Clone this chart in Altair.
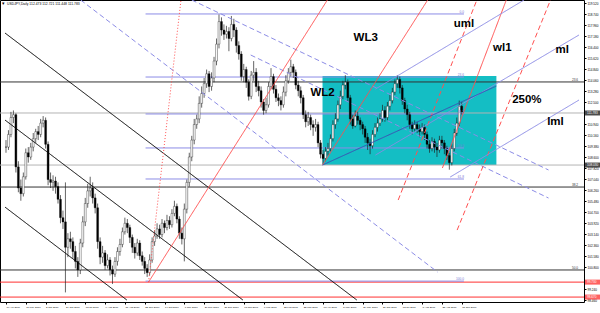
import altair as alt
import pandas as pd

# ---------------- data ----------------
closes = [
    109.3, 110.2, 111.4, 111.6, 107.9, 106.4, 106.0, 107.2, 108.9, 108.6,
    109.3, 109.9, 110.4, 110.2, 111.0, 111.2, 109.5, 107.0, 106.8, 106.9,
    106.5, 105.6, 104.3, 104.0, 102.2, 102.8, 102.6, 101.9, 101.2, 100.6,
    102.5, 104.0, 105.3, 106.2, 106.4, 105.7, 105.0, 102.6, 101.5, 101.8,
    100.9, 101.3, 100.6, 100.3, 101.2, 101.9, 102.4, 103.3, 103.9, 103.6,
    102.9, 102.2, 101.8, 102.5, 101.6, 101.2, 100.7, 100.4, 101.3, 102.6,
    103.0, 103.5, 103.1, 103.9, 103.6, 104.1, 103.8, 104.6, 105.1, 104.2,
    103.2, 102.8, 104.9, 106.8, 108.6, 109.8, 110.9, 111.3, 112.4, 113.1,
    113.8, 114.5, 113.6, 114.2, 115.4, 116.6, 118.2, 117.6, 117.3, 117.5,
    117.0, 118.0, 117.6, 116.5, 115.9, 114.3, 114.8, 113.9, 112.9, 114.4,
    114.6, 113.6, 113.3, 112.5, 111.9, 112.3, 113.6, 114.3, 113.4, 112.8,
    112.6, 112.3, 113.2, 114.0, 114.6, 115.0, 114.6, 113.7, 113.3, 112.8,
    111.6, 111.1, 111.4, 110.9, 110.7, 110.9, 109.6, 108.8, 108.5, 109.0,
    109.2, 109.9, 110.9, 111.3, 112.3, 112.9, 113.7, 113.9, 112.8, 111.3,
    110.8, 111.5, 111.2, 110.9, 110.6, 110.0, 109.6, 109.4, 110.2, 110.7,
    111.0, 111.3, 111.9, 111.4, 112.2, 112.6, 113.2, 113.8, 114.1, 113.5,
    112.6, 112.0, 111.6, 110.9, 110.6, 110.9, 110.6, 110.4, 110.7, 110.2,
    109.5, 109.2, 109.7, 109.3, 109.1, 109.8, 109.6, 109.2, 108.7, 108.2,
    109.2, 110.3, 111.0, 112.2, 111.8,
]
lows = [
    108.9, 109.1, 110.0, 111.0, 107.5, 106.1, 105.5, 105.8, 107.0, 108.2,
    108.4, 109.0, 109.6, 109.8, 110.0, 110.7, 109.2, 106.6, 106.4, 106.2,
    106.0, 105.3, 103.9, 103.5, 99.0, 101.5, 102.1, 101.4, 100.7, 100.1,
    100.3, 102.2, 103.7, 105.0, 105.8, 105.3, 104.6, 102.1, 101.0, 101.1,
    100.6, 100.7, 100.2, 99.6, 100.1, 100.9, 101.6, 102.2, 103.1, 103.2,
    102.5, 101.8, 101.4, 101.6, 101.3, 100.9, 100.3, 100.1, 100.2, 101.1,
    102.3, 102.8, 102.8, 102.9, 103.2, 103.4, 103.5, 103.6, 104.4, 103.9,
    102.8, 102.4, 101.2, 104.6, 106.5, 108.3, 109.5, 110.6, 111.0, 112.1,
    112.8, 113.5, 113.2, 113.3, 113.9, 115.1, 116.3, 117.2, 116.9, 117.0,
    116.1, 116.8, 117.1, 116.0, 115.5, 114.0, 113.9, 113.5, 112.6, 112.7,
    114.0, 113.2, 112.9, 112.1, 111.6, 111.7, 112.1, 113.4, 113.1, 112.5,
    112.2, 111.9, 112.1, 112.9, 113.8, 114.3, 114.2, 113.4, 112.9, 112.4,
    111.3, 110.7, 110.8, 110.5, 110.1, 110.4, 109.3, 108.5, 108.1, 108.3,
    108.7, 109.0, 109.7, 110.6, 111.1, 112.0, 112.7, 113.4, 112.5, 110.9,
    110.6, 110.7, 110.9, 110.5, 110.2, 109.6, 109.1, 108.8, 109.2, 110.0,
    110.4, 110.8, 111.1, 111.1, 111.2, 111.9, 112.4, 113.0, 113.5, 113.1,
    112.3, 111.7, 111.2, 110.6, 110.2, 110.4, 110.3, 110.0, 110.2, 109.8,
    109.2, 108.9, 109.0, 108.9, 108.6, 108.9, 109.2, 108.8, 108.4, 107.7,
    108.0, 109.0, 110.1, 110.8, 111.6,
]
highs = [
    109.8, 110.5, 111.8, 111.9, 111.7, 108.3, 107.0, 107.5, 109.2, 109.3,
    109.6, 110.3, 110.6, 110.8, 111.3, 111.5, 111.4, 109.7, 107.5, 107.3,
    107.2, 106.8, 105.9, 104.8, 106.8, 103.2, 103.3, 102.9, 102.3, 101.5,
    102.8, 104.4, 105.7, 106.7, 107.2, 106.8, 106.0, 105.3, 102.9, 102.3,
    102.0, 101.7, 101.5, 100.9, 101.5, 102.2, 102.8, 103.6, 104.3, 104.2,
    103.8, 103.1, 102.5, 102.8, 102.7, 101.9, 101.5, 101.0, 101.7, 102.9,
    103.4, 103.9, 103.8, 104.2, 104.1, 104.5, 104.4, 104.9, 105.5, 105.3,
    104.4, 103.6, 105.3, 107.0, 108.9, 110.1, 111.3, 111.6, 112.9, 113.6,
    114.2, 114.8, 114.7, 114.6, 115.7, 117.0, 118.7, 118.5, 118.0, 117.9,
    117.8, 118.6, 118.4, 117.8, 116.8, 116.1, 115.2, 115.0, 114.1, 114.7,
    115.4, 114.9, 114.0, 113.6, 112.7, 112.8, 113.9, 114.9, 114.5, 113.7,
    113.1, 112.9, 113.6, 114.4, 114.9, 115.5, 115.2, 114.8, 114.0, 113.6,
    113.0, 111.9, 111.8, 111.6, 111.2, 111.3, 111.1, 109.8, 109.1, 109.3,
    109.6, 110.2, 111.2, 111.7, 112.6, 113.3, 114.0, 114.4, 114.1, 113.0,
    111.6, 111.9, 111.8, 111.4, 111.1, 110.8, 110.3, 109.9, 110.5, 111.0,
    111.4, 111.7, 112.3, 112.2, 112.5, 113.0, 113.5, 114.1, 114.4, 114.3,
    113.7, 112.8, 112.3, 111.8, 111.1, 111.2, 111.1, 110.9, 111.0, 110.9,
    110.4, 109.8, 110.0, 109.9, 109.6, 110.1, 110.1, 109.8, 109.4, 108.9,
    109.5, 110.6, 111.4, 112.6, 112.5,
]
bars_per_candle = 2

date_ticks = [0, 16, 32, 48, 64, 80, 96, 112, 128, 144, 160, 176, 192, 208,
              224, 240, 256, 272, 288, 304, 320, 336, 352, 368]
date_labels = ["19 Apr 2016", "11 May 2016", "2 Jun 2016", "24 Jun 2016",
               "18 Jul 2016", "9 Aug 2016", "31 Aug 2016", "22 Sep 2016",
               "14 Oct 2016", "7 Nov 2016", "29 Nov 2016", "21 Dec 2016",
               "13 Jan 2017", "6 Feb 2017", "28 Feb 2017", "22 Mar 2017",
               "13 Apr 2017", "5 May 2017", "29 May 2017", "20 Jun 2017",
               "12 Jul 2017", "3 Aug 2017", "25 Aug 2017", "18 Sep 2017"]
price_ticks = [119.52, 118.74, 117.96, 117.18, 116.40, 115.62, 114.84, 114.06,
               113.28, 112.50, 110.94, 110.16, 109.38, 108.60, 107.82,
               107.04, 106.26, 105.48, 104.70, 103.92, 103.14, 102.36, 101.58,
               100.80, 99.24, 98.46]

# full-width horizontal lines: price, colour, label
hline_price = [113.92, 106.47, 100.59, 111.72, 108.03, 99.73, 98.67]
hline_color = ["#333333", "#333333", "#333333", "#b4b4b4", "#b4b4b4", "#ff3030", "#ff3030"]
hline_label = ["23.6", "38.2", "50.0", "", "", "", ""]

# lavender fibonacci levels (from bar 112.7 to bar 369.8)
fib_start, fib_end = 112.7, 369.8
fib_price = [118.74, 114.27, 111.65, 109.24, 107.04, 99.80]
fib_label = ["0.0", "23.6", "38.2", "50.0", "61.8", "100.0"]

# trend lines: start bar, start price, end bar, end price, colour, style
seg_i1 = [-0.8, -0.8, -0.8, 60.3, 150.0, 197.6, 115.1, 115.1, 255.6, 352.4,
          316.7, 364.3, 298.4, 298.4, 358.7, 255.6]
seg_p1 = [117.39, 111.22, 105.05, 119.73, 119.73, 115.83, 99.73, 99.73, 108.03, 107.82,
          105.55, 103.42, 113.42, 108.74, 107.18, 108.03]
seg_i2 = [283.3, 191.3, 97.6, 348.4, 438.1, 438.1, 141.3, 259.5, 340.5, 404.0,
          380.2, 439.7, 418.3, 462.7, 462.7, 396.0]
seg_p2 = [98.46, 98.46, 98.46, 100.45, 107.68, 105.69, 119.73, 119.73, 119.73, 119.73,
          119.73, 119.73, 119.73, 117.25, 112.64, 113.63]
seg_col = ["#000000", "#000000", "#000000", "#8c8ce6", "#8c8ce6", "#8c8ce6",
           "#ff5050", "#ff5050", "#ff5050", "#ff5050", "#ff5050", "#ff5050",
           "#8c8ce6", "#8c8ce6", "#8c8ce6", "#3c50b4"]
seg_dash = ["solid", "solid", "solid", "dashed", "dashed", "dashed",
            "dotted", "solid", "solid", "solid", "dashed", "dashed",
            "solid", "solid", "solid", "solid"]

# cyan box
box_i = [255.6, 396.0]
box_p = [108.03, 114.34]

# big text annotations
note_text = ["WL3", "WL2", "uml", "wl1", "ml", "250%", "lml"]
note_i = [290.5, 255.6, 369.8, 400.8, 449.2, 420.6, 443.7]
note_p = [117.04, 113.14, 118.03, 116.33, 116.19, 112.64, 111.08]

# highlighted price labels on the right scale
tag_price = [111.72, 108.03, 99.73, 98.67]
tag_text = ["111.783", "108.030", "99.730", "98.670"]
tag_color = ["#000000", "#000000", "#ff2020", "#ff2020"]

title_text = "USDJPY,Daily  112.473 112.721 111.448 111.783"

# ---------------- build ----------------
W, H = 584, 302
XS = alt.Scale(domain=[-0.8, 462.7], nice=False, zero=False)
YS = alt.Scale(domain=[98.32, 119.73], nice=False, zero=False)
FONT = "Liberation Sans"

label_arr = "[" + ",".join("'" + s + "'" for s in date_labels) + "]"
x_axis = alt.Axis(values=date_ticks, labelExpr=label_arr + "[round(datum.value/16)]",
                  orient="bottom", domain=False, grid=False, ticks=True, tickSize=2,
                  tickColor="#000", labelFontSize=2.5, labelFont=FONT, labelAlign="left",
                  labelPadding=1.5, labelColor="#000", labelOverlap=False, labelFlush=False,
                  title=None)
y_axis = alt.Axis(values=price_ticks, format=".3f", orient="right", domain=False,
                  grid=False, ticks=True, tickSize=2, tickColor="#000", labelFontSize=3.1,
                  labelFont=FONT, labelPadding=1, labelColor="#000", labelOverlap=False,
                  labelFlush=False, title=None)


def X(f):
    return alt.X(f, type="quantitative", scale=XS, axis=x_axis)


def Y(f):
    return alt.Y(f, type="quantitative", scale=YS, axis=y_axis)


candles = pd.DataFrame({
    "i": [k * bars_per_candle for k in range(len(closes))],
    "close": closes,
    "open": [closes[0]] + closes[:-1],
    "low": lows,
    "high": highs,
})
candles["fill"] = ["#ffffff" if c >= o else "#000000" for o, c in zip(candles.open, candles.close)]

box = alt.Chart(pd.DataFrame({"i0": [box_i[0]], "i1": [box_i[1]],
                              "p0": [box_p[0]], "p1": [box_p[1]]})).mark_rect(
    color="#14bec4", opacity=1).encode(x=X("i0"), x2="i1", y=Y("p0"), y2="p1")

wick = alt.Chart(candles).mark_rule(color="#222", strokeWidth=0.7).encode(
    x=X("i"), y=Y("low"), y2="high")
body = alt.Chart(candles).mark_bar(size=1.9, stroke="#000", strokeWidth=0.35).encode(
    x=X("i"), y=Y("open"), y2="close", fill=alt.Fill("fill:N", scale=None))

hl = pd.DataFrame({"p": hline_price, "col": hline_color, "lab": hline_label})
hlines = alt.Chart(hl).mark_rule(strokeWidth=1).encode(
    y=Y("p"), color=alt.Color("col:N", scale=None))
hlabels = alt.Chart(hl).mark_text(fontSize=3.2, font=FONT, align="right", baseline="bottom",
                                  dy=-0.5, color="#333").encode(
    x=X("ix"), y=Y("p"), text="lab:N").transform_calculate(ix="462")

fb = pd.DataFrame({"p": fib_price, "lab": fib_label, "i0": fib_start, "i1": fib_end})
fib = alt.Chart(fb).mark_rule(color="#8c8ce6", strokeWidth=1).encode(
    x=X("i0"), x2="i1", y=Y("p"), y2="p")
fibtxt = alt.Chart(fb).mark_text(fontSize=3.2, font=FONT, align="right", baseline="bottom",
                                 dy=-0.5, color="#7a7ad6").encode(
    x=X("i1"), y=Y("p"), text="lab:N")

sg = pd.DataFrame({"i1": seg_i1, "p1": seg_p1, "i2": seg_i2, "p2": seg_p2,
                   "col": seg_col, "dash": seg_dash})
segs = alt.Chart(sg).mark_rule(strokeWidth=1, clip=True).encode(
    x=X("i1"), y=Y("p1"), x2="i2", y2="p2",
    color=alt.Color("col:N", scale=None),
    strokeDash=alt.StrokeDash("dash:N", scale=alt.Scale(
        domain=["solid", "dashed", "dotted"], range=[[1, 0], [5, 3], [1, 2]]), legend=None))

nt = pd.DataFrame({"t": note_text, "i": note_i, "p": note_p})
notes = alt.Chart(nt).mark_text(fontSize=11.5, font=FONT, fontWeight="bold",
                                color="#000").encode(x=X("i"), y=Y("p"), text="t:N")

tg = pd.DataFrame({"p": tag_price, "t": tag_text, "col": tag_color})
tagbg = alt.Chart(tg).mark_tick(thickness=5, size=15, orient="horizontal").encode(
    x=alt.value(592.5), y=Y("p"), color=alt.Color("col:N", scale=None))
tagtx = alt.Chart(tg).mark_text(fontSize=3.1, font=FONT, align="left", baseline="middle",
                                color="#fff").encode(
    x=alt.value(587), y=Y("p"), text="t:N")

title = alt.Chart(pd.DataFrame({"t": [title_text]})).mark_text(
    fontSize=3.4, font=FONT, align="left", baseline="middle", color="#000").encode(
    x=alt.value(7), y=alt.value(4), text="t:N")
title_icon = alt.Chart(pd.DataFrame({"t": ["\u25be"]})).mark_text(
    fontSize=4.5, font=FONT, align="left", baseline="middle", color="#000").encode(
    x=alt.value(2), y=alt.value(4), text="t:N")

chart = alt.layer(box, hlines, fib, wick, body, segs, hlabels, fibtxt, notes,
                  tagbg, tagtx, title, title_icon).properties(
    width=W, height=H,
    autosize=alt.AutoSizeParams(type="none"),
    padding={"left": 0, "top": 0, "right": 16, "bottom": 11},
    background="#ffffff",
).configure_view(stroke="#000", strokeWidth=1)

chart.save("out.html", embed_options={"renderer": "svg", "actions": False})
